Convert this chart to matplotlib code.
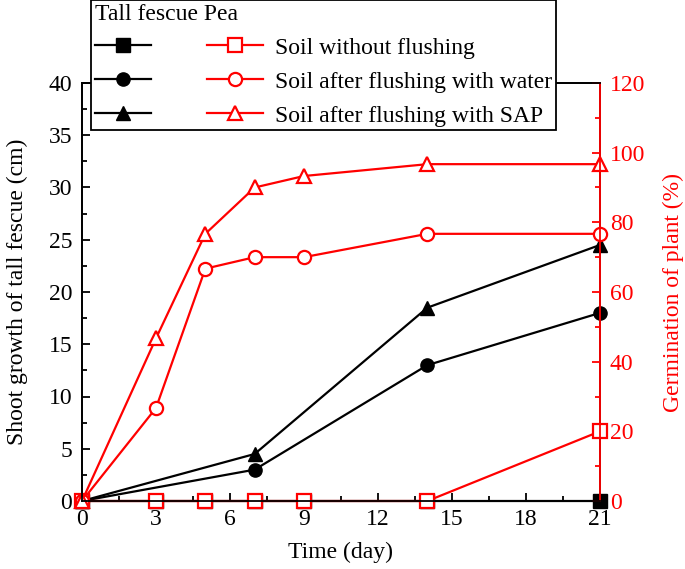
import matplotlib.pyplot as plt
from matplotlib.lines import Line2D

plt.rcParams['font.family'] = ['Liberation Serif', 'DejaVu Serif']

# Tall fescue shoot growth (cm), left axis
fescue_days = [0, 3, 5, 7, 9, 14, 21]
fescue_none = [0, 0, 0, 0, 0, 0, 0]
fescue_days_b = [0, 7, 14, 21]
fescue_water = [0, 3, 13, 18]
fescue_sap = [0, 4.5, 18.5, 24.5]

# Pea germination (%), right axis
pea_days = [0, 3, 5, 7, 9, 14, 21]
pea_none = [0, 0, 0, 0, 0, 0, 20]
pea_water = [0, 26.7, 66.7, 70, 70, 76.7, 76.7]
pea_sap = [0, 46.7, 76.7, 90, 93.3, 96.7, 96.7]

labels = ['Soil without flushing', 'Soil after flushing with water',
          'Soil after flushing with SAP']

red = '#ff0000'
fs = 17
fig = plt.figure(figsize=(6.85, 5.69), dpi=100)
ax = fig.add_axes([82 / 685, 68 / 569, 518 / 685, 418 / 569])
ax2 = ax.twinx()

# tall fescue (black, filled)
kw = dict(lw=1.6, ms=9.5, clip_on=False)
ax.plot(fescue_days, fescue_none, color='k', marker='s', zorder=3, **kw)
ax.plot(fescue_days_b, fescue_water, color='k', marker='o', zorder=3, **kw)
ax.plot(fescue_days_b, fescue_sap, color='k', marker='^', zorder=3, **kw)

# pea (red, open)
rkw = dict(color=red, mfc='white', mec=red, mew=1.6, lw=1.6, ms=9.5)
ax2.plot(pea_days, pea_none, marker='s', clip_on=False, **rkw)
ax2.plot(pea_days, pea_water, marker='o', clip_on=False, **rkw)
ax2.plot(pea_days, pea_sap, marker='^', clip_on=False, **rkw)

ax.set_xlim(0, 21)
ax.set_ylim(0, 40)
ax2.set_ylim(0, 120)
ax.set_xticks(range(0, 22, 3))
ax.set_xticks([i * 1.5 for i in range(15)], minor=True)
ax.set_yticks(range(0, 41, 5))
ax.set_yticks([i * 2.5 for i in range(17)], minor=True)
ax2.set_yticks(range(0, 121, 20))
ax2.set_yticks(range(0, 121, 10), minor=True)

for a in (ax, ax2):
    a.tick_params(which='both', direction='in', labelsize=fs, width=1.3, pad=7)
    a.tick_params(which='major', length=6)
    a.tick_params(which='minor', length=3.5)
    for s in a.spines.values():
        s.set_linewidth(1.3)
ax.tick_params(axis='x', which='both', pad=6)
ax2.tick_params(which='both', colors=red)
ax2.spines['right'].set_color(red)

ax.set_xlabel('Time (day)', fontsize=fs, labelpad=8)
ax.set_ylabel('Shoot growth of tall fescue (cm)', fontsize=fs, labelpad=15)
ax2.set_ylabel('Germination of plant (%)', fontsize=fs, color=red, labelpad=13)

handles = [Line2D([], [], color='k', marker=m, lw=1.6, ms=9.5) for m in ['s', 'o', '^']]
handles += [Line2D([], [], marker=m, **rkw) for m in ['s', 'o', '^']]
leg = ax2.legend(handles, ['', '', ''] + labels, ncol=2, title='Tall fescue Pea',
                 alignment='left', loc='upper left',
                 bbox_to_anchor=(91 / 685, 1.0), bbox_transform=fig.transFigure,
                 fontsize=fs, title_fontsize=fs, frameon=True, fancybox=False,
                 edgecolor='k', framealpha=1, handlelength=2.4, handletextpad=0.5,
                 columnspacing=1.85, borderpad=0.15, labelspacing=0.53,
                 borderaxespad=0)
leg.get_frame().set_linewidth(1.3)

fig.savefig('out.png', dpi=100)
